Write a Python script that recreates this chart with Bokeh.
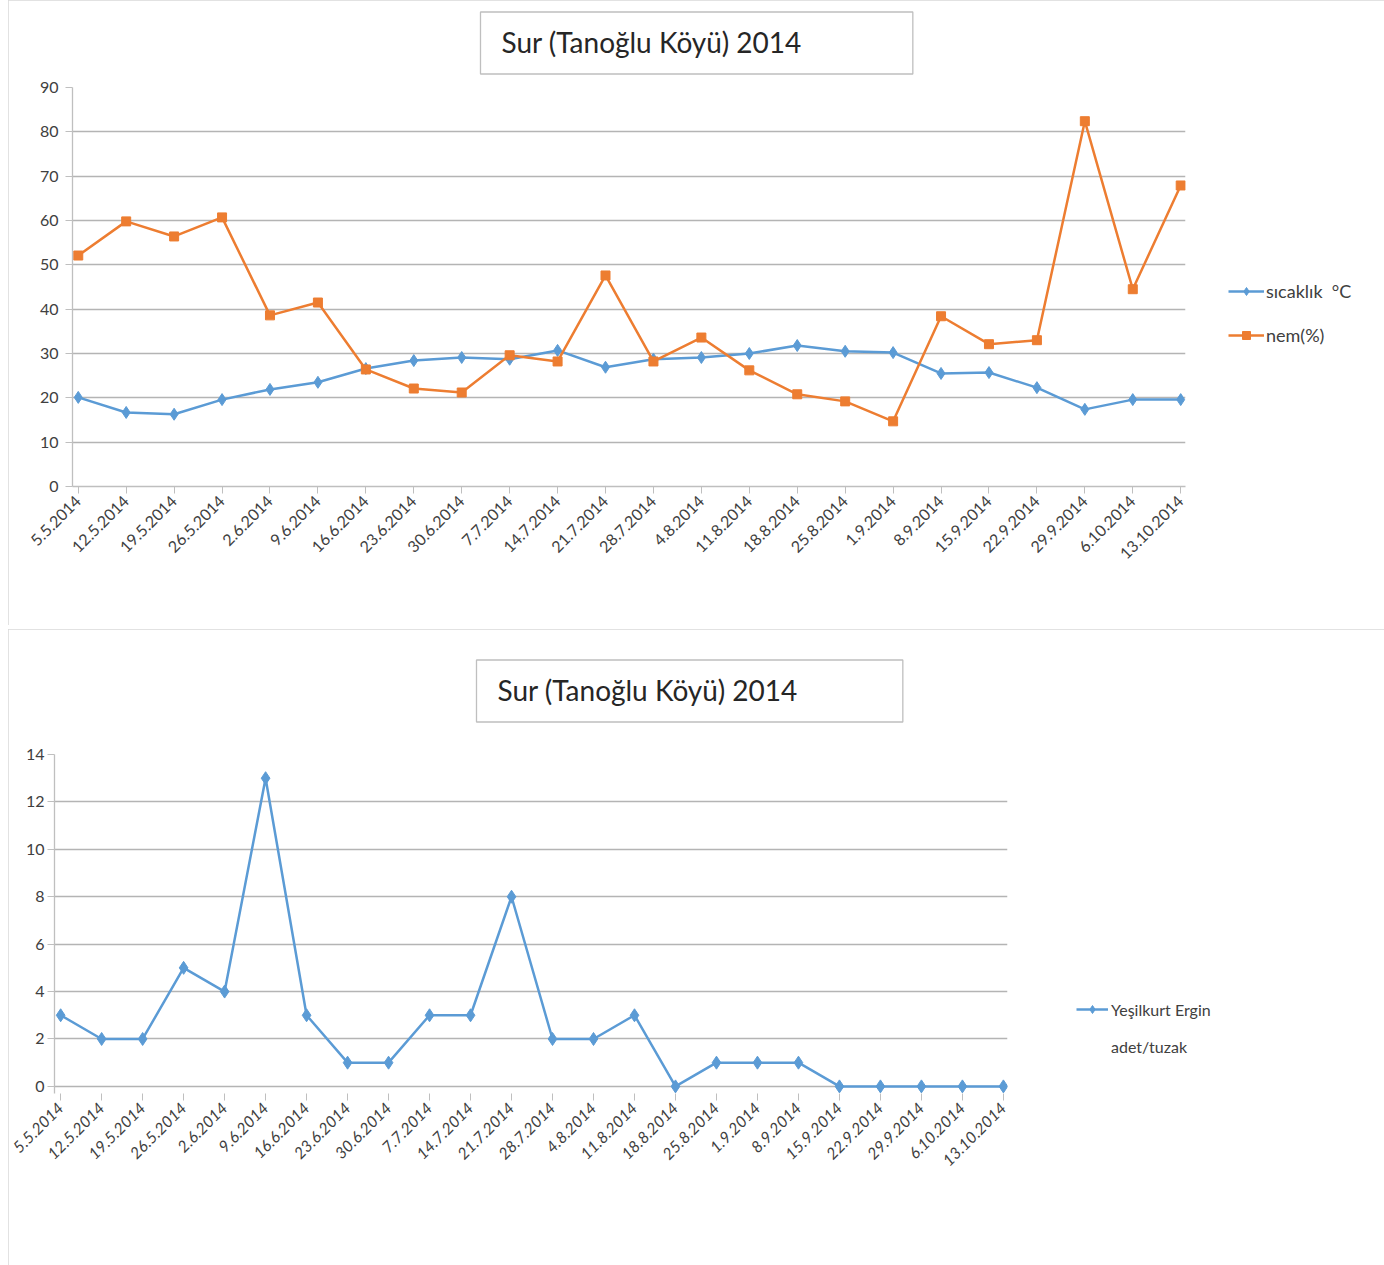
from math import pi
from bokeh.plotting import figure
from bokeh.models import Range1d, FixedTicker, Legend, LegendItem
from bokeh.embed import file_html
from bokeh.resources import INLINE

dates = ["5.5.2014", "12.5.2014", "19.5.2014", "26.5.2014", "2.6.2014", "9.6.2014",
         "16.6.2014", "23.6.2014", "30.6.2014", "7.7.2014", "14.7.2014", "21.7.2014",
         "28.7.2014", "4.8.2014", "11.8.2014", "18.8.2014", "25.8.2014", "1.9.2014",
         "8.9.2014", "15.9.2014", "22.9.2014", "29.9.2014", "6.10.2014", "13.10.2014"]
sicaklik = [20.1, 16.7, 16.3, 19.6, 21.9, 23.5, 26.6, 28.4, 29.1, 28.7, 30.7, 26.9,
            28.7, 29.1, 30.0, 31.8, 30.5, 30.2, 25.5, 25.7, 22.3, 17.4, 19.6, 19.6]
nem = [52.1, 59.8, 56.4, 60.7, 38.6, 41.5, 26.4, 22.1, 21.2, 29.6, 28.2, 47.6,
       28.2, 33.6, 26.2, 20.8, 19.2, 14.7, 38.4, 32.1, 33.0, 82.4, 44.5, 67.9]
ergin = [3, 2, 2, 5, 4, 13, 3, 1, 1, 3, 3, 8, 2, 2, 3, 0, 1, 1, 1, 0, 0, 0, 0, 0]
y1_ticks = [0, 10, 20, 30, 40, 50, 60, 70, 80, 90]
y2_ticks = [0, 2, 4, 6, 8, 10, 12, 14]
title_text = "Sur (Tanoğlu Köyü) 2014"
legend1 = ["sıcaklık  °C", "nem(%)"]
legend2 = ["Yeşilkurt Ergin", "adet/tuzak"]

BLUE = "#5B9BD5"
ORANGE = "#ED7D31"
GRID = "#B4B4B4"
AXIS = "#BFBFBF"
TXT = "#404040"
idx = list(range(len(dates)))
overrides = {i: d for i, d in enumerate(dates)}


def style(p, yticks, font, size, margin_top, standoff, pad_right):
    p.outline_line_color = None
    p.xgrid.visible = False
    p.ygrid.grid_line_color = GRID
    p.ygrid.grid_line_width = 1.3
    p.xaxis.ticker = FixedTicker(ticks=idx)
    p.xaxis.major_label_overrides = overrides
    p.xaxis.major_label_orientation = pi / 4
    p.yaxis.ticker = FixedTicker(ticks=yticks)
    for ax in (p.xaxis[0], p.yaxis[0]):
        ax.axis_line_color = AXIS
        ax.axis_line_width = 1.3
        ax.major_tick_line_color = AXIS
        ax.major_tick_in = 0
        ax.major_tick_out = 7
        ax.minor_tick_line_color = None
        ax.major_label_text_font = font
        ax.major_label_text_font_size = size
        ax.major_label_text_color = TXT
    p.xaxis.major_label_standoff = 5
    p.styles = {"outline": "1px solid #D9D9D9", "outline-offset": "-1px",
                "margin-left": "8px", "margin-top": margin_top}
    t = p.title
    t.text = title_text
    t.align = "left"
    t.vertical_align = "top"
    t.text_font = "Lato"
    t.text_font_size = "28px"
    t.text_font_style = "normal"
    t.text_color = "#262626"
    t.border_line_color = AXIS
    t.border_line_width = 1.3
    t.background_fill_color = "white"
    # (left, right, top, bottom)
    t.padding = (21, pad_right, 13, 15)
    t.standoff = standoff


# ---------- top chart ----------
p1 = figure(frame_width=1113, frame_height=399, output_backend="svg", toolbar_location=None,
            x_range=Range1d(-0.12, 23.1), y_range=Range1d(0, 90),
            min_border_left=64, min_border_right=193, min_border_top=87, min_border_bottom=139)
style(p1, y1_ticks, "Lato", "16px", "0px", 23, 111)
p1.yaxis.major_label_standoff = 7
p1.title.offset = 408

l1 = p1.line(idx, sicaklik, line_color=BLUE, line_width=2.5)
s1 = p1.scatter(idx, sicaklik, marker="diamond", size=12, fill_color=BLUE, line_color=BLUE)
l2 = p1.line(idx, nem, line_color=ORANGE, line_width=2.5)
s2 = p1.scatter(idx, nem, marker="square", size=9, fill_color=ORANGE, line_color=ORANGE)

leg1 = Legend(items=[LegendItem(label=legend1[0], renderers=[l1, s1]),
                     LegendItem(label=legend1[1], renderers=[l2, s2])],
              location=(43, 140), glyph_width=36, glyph_height=20, label_height=20,
              spacing=22, padding=10, margin=0, label_standoff=2,
              label_text_font="Lato", label_text_font_size="18px", label_text_color=TXT,
              border_line_color=None, background_fill_alpha=0)
p1.add_layout(leg1, "right")

# ---------- bottom chart ----------
p2 = figure(frame_width=953, frame_height=339, output_backend="svg", toolbar_location=None,
            x_range=Range1d(-0.15, 23.1), y_range=Range1d(-0.3, 14),
            min_border_left=46, min_border_right=371, min_border_top=125, min_border_bottom=172)
style(p2, y2_ticks, "Lato", "16px", "4px", 61, 105)
p2.yaxis.major_label_standoff = 3
p2.xaxis.axis_line_color = None
p2.xaxis.major_label_text_font_style = "italic"
p2.title.offset = 422

l3 = p2.line(idx, ergin, line_color=BLUE, line_width=2.5)
s3 = p2.scatter(idx, ergin, marker="diamond", size=13, fill_color=BLUE, line_color=BLUE)
blank = p2.line([], [], line_alpha=0)

leg2 = Legend(items=[LegendItem(label=legend2[0], renderers=[l3, s3]),
                     LegendItem(label=legend2[1], renderers=[blank])],
              location=(69, 37), glyph_width=32, glyph_height=20, label_height=20,
              spacing=17, padding=10, margin=0, label_standoff=3,
              label_text_font="Lato", label_text_font_size="16px",
              label_text_color=TXT,
              border_line_color=None, background_fill_alpha=0)
p2.add_layout(leg2, "right")

open("out.html", "w").write(file_html([p1, p2], INLINE))
